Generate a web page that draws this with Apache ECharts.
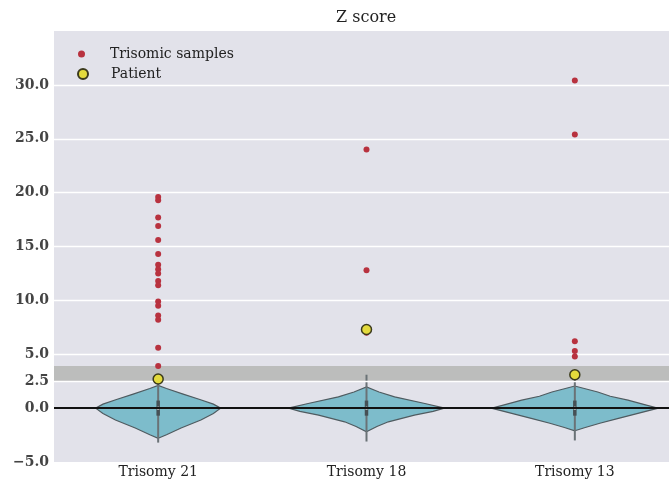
<!DOCTYPE html>
<html>
<head>
<meta charset="utf-8">
<script src="https://cdn.jsdelivr.net/npm/echarts@6/dist/echarts.min.js"></script>
<style>
html, body { margin: 0; padding: 0; background: #fff; }
#chart { width: 669px; height: 481px; }
</style>
</head>
<body>
<div id="chart"></div>
<script>
var categories = ['Trisomy 21', 'Trisomy 18', 'Trisomy 13'];
var yTicks = [-5, 0, 2.5, 5, 10, 15, 20, 25, 30];
var gridValues = [2.5, 5, 10, 15, 20, 25, 30];

// z scores of known trisomic samples, per chromosome
var t21Samples = [19.6, 19.3, 17.7, 16.9, 15.6, 14.3, 13.3, 12.9, 12.5, 11.8, 11.4, 9.9, 9.5, 8.6, 8.2, 5.6, 3.9];
var t18Samples = [24.0, 12.8, 7.0];
var t13Samples = [30.4, 25.4, 6.2, 5.3, 4.8];
var patientScores = [2.7, 7.3, 3.1];
var greyBand = [2.5, 3.9];

// violin outline of the normal samples: [z, half width as share of category band]
var t21Violin = [[-2.8, 0], [-2.47, 0.04], [-1.85, 0.11], [-1.1, 0.205], [-0.5, 0.265], [0, 0.3], [0.37, 0.265], [0.8, 0.2], [1.3, 0.12], [1.82, 0.04], [2.1, 0]];
var t18Violin = [[-2.2, 0], [-1.7, 0.05], [-1.27, 0.105], [-0.65, 0.23], [-0.3, 0.32], [0, 0.375], [0.43, 0.28], [1.05, 0.135], [1.5, 0.06], [1.97, 0]];
var t13Violin = [[-2.1, 0], [-1.8, 0.05], [-1.4, 0.12], [-1.0, 0.2], [-0.65, 0.27], [0, 0.4], [0.35, 0.33], [0.74, 0.255], [1.1, 0.17], [1.5, 0.11], [1.8, 0.05], [2.05, 0]];
// inner box: [low, q1, median, q3, high]
var boxStats = [[-3.2, -0.7, 0, 0.7, 2.3], [-3.1, -0.7, 0, 0.7, 3.1], [-3.0, -0.7, 0, 0.7, 3.0]];

var violins = [t21Violin, t18Violin, t13Violin];
var serif = 'DejaVu Serif';

function toPoints(list, idx) {
    return list.map(function (v) { return [idx, v]; });
}

var sampleData = toPoints(t21Samples, 0).concat(toPoints(t18Samples, 1), toPoints(t13Samples, 2));
var patientData = patientScores.map(function (v, i) { return [i, v]; });

function renderViolin(params, api) {
    var i = params.dataIndex;
    var prof = violins[i];
    var bw = api.size([1, 0])[0];
    var pts = [];
    prof.forEach(function (p) {
        var c = api.coord([i, p[0]]);
        pts.push([c[0] + p[1] * bw, c[1]]);
    });
    for (var k = prof.length - 1; k >= 0; k--) {
        var c = api.coord([i, prof[k][0]]);
        pts.push([c[0] - prof[k][1] * bw, c[1]]);
    }
    var s = boxStats[i];
    var lo = api.coord([i, s[0]]), q1 = api.coord([i, s[1]]), md = api.coord([i, s[2]]);
    var q3 = api.coord([i, s[3]]), hi = api.coord([i, s[4]]);
    return {
        type: 'group',
        children: [
            { type: 'polygon', shape: { points: pts }, style: { fill: '#7dbccb', stroke: '#4f5b60', lineWidth: 1.2 } },
            { type: 'line', shape: { x1: lo[0], y1: lo[1], x2: hi[0], y2: hi[1] }, style: { stroke: '#6a7276', lineWidth: 2 } },
            { type: 'line', shape: { x1: q1[0], y1: q1[1], x2: q3[0], y2: q3[1] }, style: { stroke: '#465055', lineWidth: 3.5 } },
            { type: 'circle', shape: { cx: md[0], cy: md[1], r: 1.6 }, style: { fill: '#d8d8d8' } }
        ]
    };
}

var chart = echarts.init(document.getElementById('chart'));
chart.setOption({
    animation: false,
    title: {
        text: 'Z score',
        left: 331,
        top: 5,
        textStyle: { fontFamily: serif, fontSize: 16, fontWeight: 'normal', color: '#222' }
    },
    legend: [
        {
            data: ['Trisomic samples'],
            left: 73,
            top: 42,
            itemWidth: 7,
            itemHeight: 7,
            selectedMode: false,
            textStyle: { fontFamily: serif, fontSize: 14, color: '#222', padding: [0, 0, 0, 20] }
        },
        {
            data: ['Patient'],
            left: 72,
            top: 62,
            itemWidth: 10,
            itemHeight: 10,
            selectedMode: false,
            textStyle: { fontFamily: serif, fontSize: 14, color: '#222', padding: [0, 0, 0, 18] }
        }
    ],
    grid: {
        left: 54,
        width: 625,
        top: 31,
        bottom: 19,
        outerBoundsMode: 'none',
        containLabel: false,
        show: true,
        backgroundColor: '#e2e2ea',
        borderWidth: 0
    },
    xAxis: {
        type: 'category',
        data: categories,
        axisLine: { show: false },
        axisTick: { show: false },
        axisLabel: { fontFamily: serif, fontSize: 14, color: '#222', margin: 3 },
        splitLine: { show: false }
    },
    yAxis: {
        type: 'value',
        min: -5,
        max: 35,
        axisLine: { show: false },
        axisTick: { show: false },
        splitLine: { show: false },
        axisLabel: {
            customValues: yTicks,
            fontFamily: serif,
            fontSize: 14,
            fontWeight: 'bold',
            color: '#444',
            margin: 5,
            formatter: function (v) {
                return v < 0 ? '\u2212' + Math.abs(v).toFixed(1) : v.toFixed(1);
            }
        }
    },
    series: [
        {
            name: 'grid',
            type: 'line',
            data: [],
            z: 1,
            silent: true,
            markLine: {
                symbol: 'none',
                silent: true,
                label: { show: false },
                lineStyle: { color: '#ffffff', width: 1.3, type: 'solid' },
                data: gridValues.map(function (v) { return { yAxis: v }; })
            },
            markArea: {
                silent: true,
                itemStyle: { color: '#bcbdbc' },
                data: [[{ yAxis: greyBand[0] }, { yAxis: greyBand[1] }]]
            }
        },
        {
            name: 'violin',
            type: 'custom',
            renderItem: renderViolin,
            data: [[0], [1], [2]],
            z: 3,
            silent: true
        },
        {
            name: 'zero',
            type: 'line',
            data: [],
            z: 4,
            silent: true,
            markLine: {
                symbol: 'none',
                silent: true,
                label: { show: false },
                lineStyle: { color: '#111111', width: 2, type: 'solid' },
                data: [{ yAxis: 0 }]
            }
        },
        {
            name: 'Trisomic samples',
            type: 'scatter',
            data: sampleData,
            symbolSize: 6,
            z: 5,
            itemStyle: { color: '#b8323f', opacity: 1 }
        },
        {
            name: 'Patient',
            type: 'scatter',
            data: patientData,
            symbolSize: 10,
            z: 6,
            itemStyle: { color: '#e3da3c', borderColor: '#3b3a1c', borderWidth: 1.5, opacity: 1 }
        }
    ]
});
</script>
</body>
</html>
